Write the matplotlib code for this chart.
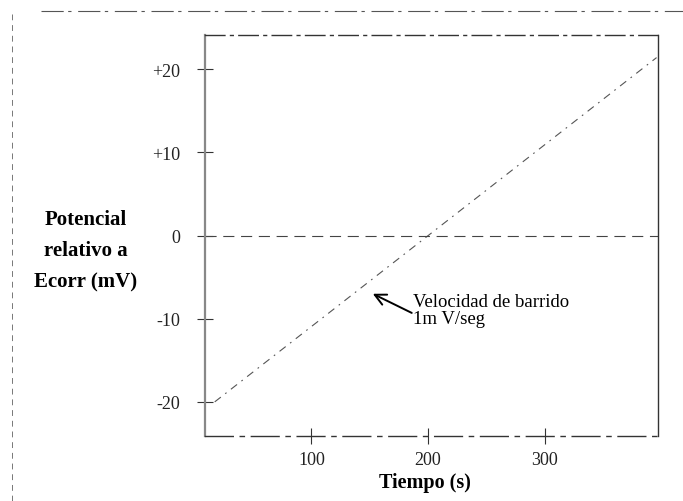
import matplotlib
matplotlib.use("Agg")
import matplotlib.pyplot as plt
from matplotlib.lines import Line2D

# Datos (barrido de potencial)
tiempo = [17, 396]             # s
potencial = [-20.0, 21.4]      # mV vs Ecorr
xticks = [100, 200, 300]
yticks = [20, 10, 0, -10, -20]
ytick_labels = ["+20", "+10", "0", "-10", "-20"]

plt.rcParams["font.family"] = ["Liberation Serif", "DejaVu Serif"]

fig = plt.figure(figsize=(6.83, 5.02), dpi=100)
ax = fig.add_axes([0.300, 0.1295, 0.663, 0.7985])

# recta del barrido
ax.plot(tiempo, potencial, color="#555555", lw=0.8,
        linestyle=(0, (7, 5, 1.5, 5)))
# referencia en 0 mV
ax.axhline(0, color="#444444", lw=0.8, linestyle=(0, (10, 6)))

ax.set_xlim(8.6, 397)
ax.set_ylim(-24.1, 24.1)

ax.set_xticks(xticks)
ax.set_yticks(yticks)
ax.set_yticklabels(ytick_labels)
ax.tick_params(direction="inout", length=12, width=0.8, colors="#333333",
               labelsize=13)
ax.tick_params(axis="y", pad=12)
ax.tick_params(axis="x", pad=5)
for lab in ax.get_xticklabels() + ax.get_yticklabels():
    lab.set_color("#222222")
for s in ax.spines.values():
    s.set_color("#333333")
    s.set_linewidth(1.0)
ax.spines["left"].set_color("#888888")
ax.spines["left"].set_linewidth(1.6)
ax.spines["top"].set_linestyle((0, (14, 4, 2, 4)))
ax.spines["bottom"].set_linestyle((0, (20, 5, 3, 5)))

ax.set_xlabel("Tiempo (s)", fontsize=14.5, fontweight="bold", va="center")
ax.xaxis.set_label_coords(0.486, -0.115)
fig.text(0.126, 0.50, "Potencial\nrelativo a\nEcorr (mV)", ha="center",
         va="center", fontsize=15, fontweight="bold", linespacing=1.75)

# anotacion de la velocidad de barrido
ax.text(187, -9.0, "Velocidad de barrido\n1m V/seg", fontsize=13.5,
        va="center", ha="left", linespacing=1.0)
ax.annotate("", xy=(152.6, -7.0), xytext=(186, -9.3),
            arrowprops=dict(arrowstyle="->", color="black", lw=1.4,
                            shrinkA=0, shrinkB=0, mutation_scale=20))

# marcas del escaneo original
fig.add_artist(Line2D([0.06, 1.0], [0.976, 0.976], transform=fig.transFigure,
                      color="#555555", lw=0.8, linestyle=(0, (20, 4, 3, 6))))
fig.add_artist(Line2D([0.018, 0.018], [0.0, 0.97], transform=fig.transFigure,
                      color="#777777", lw=0.7, linestyle=(0, (6, 5))))

fig.savefig("out.png", dpi=100)
